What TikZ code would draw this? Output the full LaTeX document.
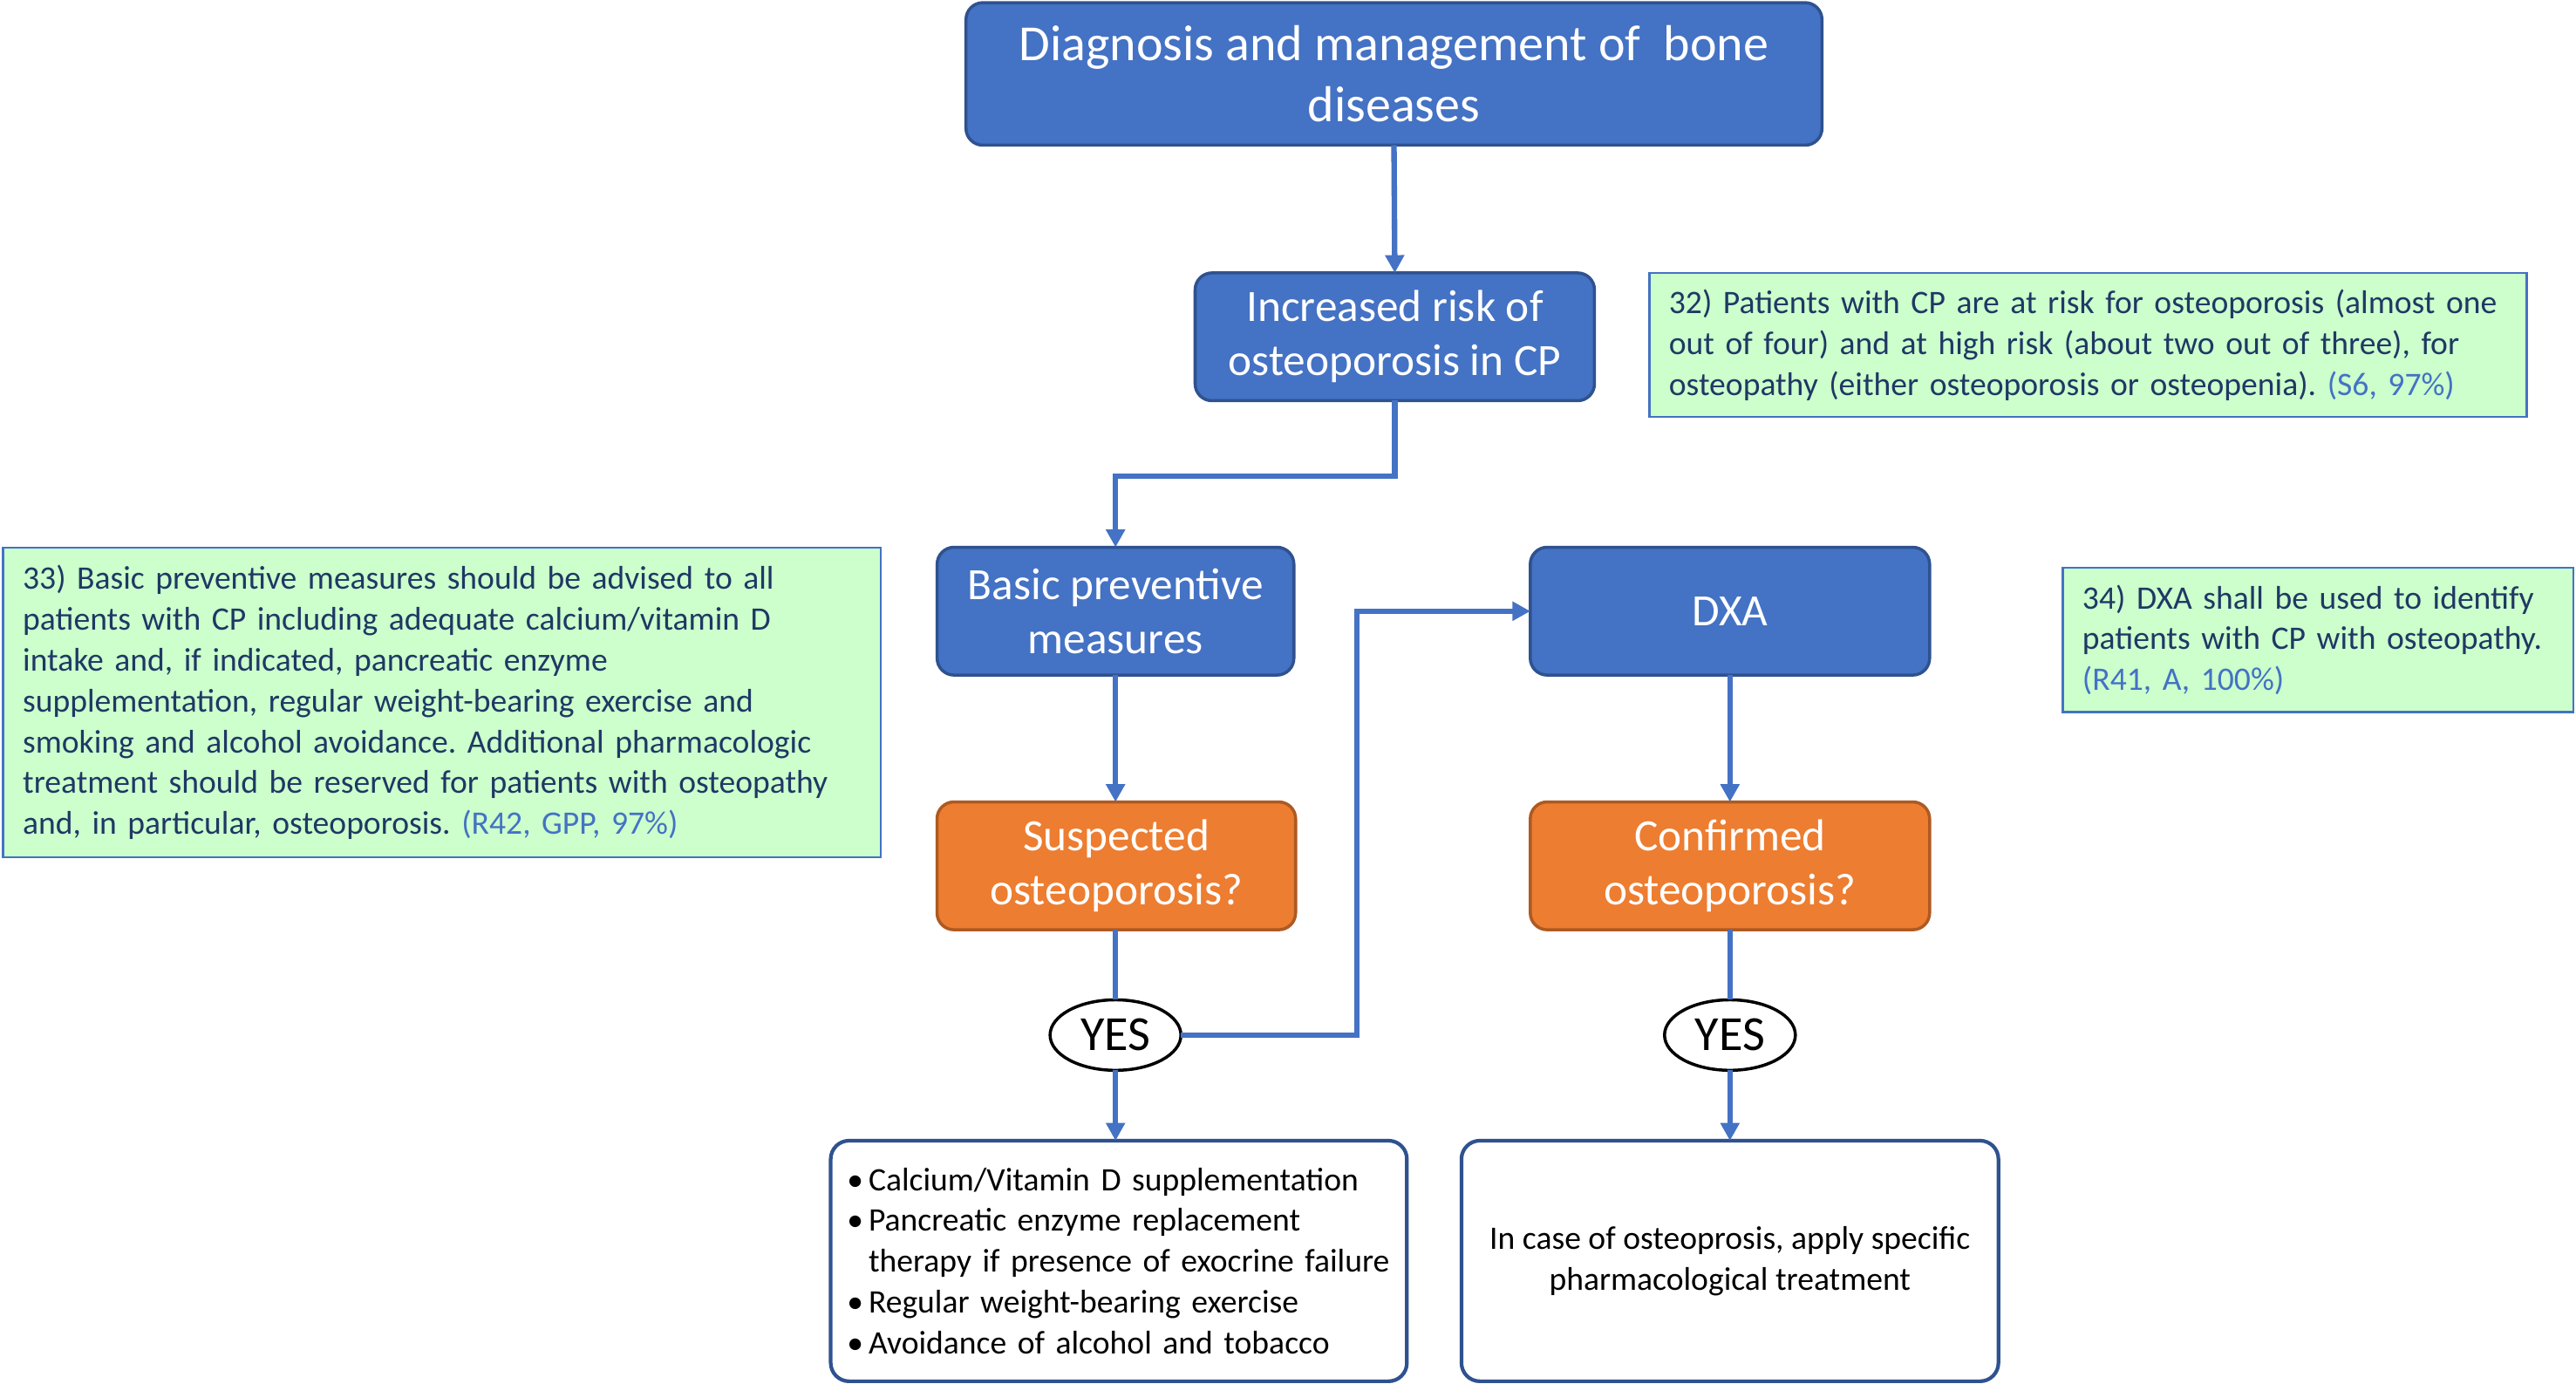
\documentclass[tikz,border=0pt]{standalone}
\usepackage{fontspec}
\setmainfont{Carlito}
\usetikzlibrary{arrows.meta,shapes.geometric}
\definecolor{bfill}{HTML}{4472C4}
\definecolor{bdraw}{HTML}{2F528F}
\definecolor{ofill}{HTML}{ED7D31}
\definecolor{odraw}{HTML}{AE5A21}
\definecolor{gfill}{HTML}{CCFFCC}
\definecolor{gdraw}{HTML}{4472C4}
\definecolor{gtext}{HTML}{1F3864}
\definecolor{reft}{HTML}{4472C4}
\definecolor{conn}{HTML}{4472C4}
\newcommand\oneline[1]{\mbox{#1}}
\newcommand\bul{\makebox[7pt][l]{•}}
\newcommand\refc[1]{{\color{reft}#1}}
\frenchspacing
\begin{document}
\begin{tikzpicture}[x=0.1884mm,y=-0.1884mm,
  box/.style={rectangle, rounded corners=5.5pt, inner sep=0pt, outer sep=0pt, align=center, line width=1pt},
  bluebox/.style={box, fill=bfill, draw=bdraw, text=white, font=\fontsize{14.6}{17.7}\selectfont},
  orangebox/.style={box, fill=ofill, draw=odraw, text=white, font=\fontsize{14.6}{17.7}\selectfont},
  notebox/.style={rectangle, fill=gfill, draw=gdraw, line width=0.7pt, inner xsep=6.4pt, inner ysep=0pt, outer sep=0pt, align=left, text=gtext, font=\fontsize{10.7}{13.35}\selectfont},
  whitebox/.style={box, rounded corners=6pt, fill=white, draw=bdraw, line width=1.2pt, text=black, font=\fontsize{10.7}{13.35}\selectfont},
  yesnode/.style={ellipse, draw=black, line width=1pt, fill=white, inner sep=0pt, outer sep=0pt, minimum width=42.7pt, minimum height=23pt, font=\fontsize{16}{19}\selectfont},
  connector/.style={draw=conn, line width=1.8pt, -{Triangle[width=6pt,length=5.8pt]}},
  plainline/.style={draw=conn, line width=1.8pt}]
\useasboundingbox[fill=white] (0,0) rectangle (1568,842);

\node[bluebox, minimum width=279.3pt, minimum height=46.5pt, font=\fontsize{16.5}{19.8}\selectfont] (title) at (848.5,45) {Diagnosis and management of\ \ bone\\diseases};
\node[bluebox, minimum width=130.3pt, minimum height=41.7pt] (risk) at (849,205) {\raisebox{-1pt}{Increased risk of}\\\raisebox{-1pt}{osteoporosis in CP}};
\node[bluebox, minimum width=116.4pt, minimum height=41.7pt] (basic) at (679,372) {\raisebox{-1pt}{Basic preventive}\\\raisebox{-1pt}{measures}};
\node[bluebox, minimum width=130.3pt, minimum height=41.7pt] (dxa) at (1053,372) {DXA};
\node[orangebox, minimum width=117pt, minimum height=41.7pt] (susp) at (679.5,527) {\raisebox{-1pt}{Suspected}\\\raisebox{-1pt}{osteoporosis?}};
\node[orangebox, minimum width=130.3pt, minimum height=41.7pt] (conf) at (1053,527) {\raisebox{-1pt}{Confirmed}\\\raisebox{-1pt}{osteoporosis?}};
\node[yesnode] (yes1) at (679,630) {YES};
\node[yesnode] (yes2) at (1053,630) {YES};

\node[whitebox, minimum width=188pt, minimum height=78.5pt, text width=177.3pt, align=left] (measures) at (681,767.5)
 {\oneline{\bul Calcium/Vitamin D supplementation}\\
  \oneline{\bul Pancreatic enzyme replacement}\\
  \oneline{\hspace*{7pt}therapy if presence of exocrine failure}\\
  \oneline{\bul Regular weight-bearing exercise}\\
  \oneline{\bul Avoidance of alcohol and tobacco}};
\node[whitebox, minimum width=175.2pt, minimum height=78.5pt] (treat) at (1053,767.5)
 {In case of osteoprosis, apply specific\\pharmacological treatment};

\node[notebox, minimum width=286.3pt, minimum height=47pt, text width=273.5pt] (n32) at (1271,210)
 {\oneline{32) Patients with CP are at risk for osteoporosis (almost one}\\
  \oneline{out of four) and at high risk (about two out of three), for}\\
  \oneline{osteopathy (either osteoporosis or osteopenia). \refc{(S6, 97\%)}}};
\node[notebox, minimum width=286.3pt, minimum height=101pt, text width=273.5pt] (n33) at (269,427.5)
 {\oneline{33) Basic preventive measures should be advised to all}\\
  \oneline{patients with CP including adequate calcium/vitamin D}\\
  \oneline{intake and, if indicated, pancreatic enzyme}\\
  \oneline{supplementation, regular weight-bearing exercise and}\\
  \oneline{smoking and alcohol avoidance. Additional pharmacologic}\\
  \oneline{treatment should be reserved for patients with osteopathy}\\
  \oneline{and, in particular, osteoporosis. \refc{(R42, GPP, 97\%)}}};
\node[notebox, minimum width=166.6pt, minimum height=47pt, text width=153.8pt] (n34) at (1411,389.5)
 {\oneline{34) DXA shall be used to identify}\\
  \oneline{patients with CP with osteopathy.}\\
  \oneline{\refc{(R41, A, 100\%)}}};

\coordinate (jog) at (826,372);
\draw[connector] (title.south) -- (risk.north);
\draw[connector] (risk.south) -- ++(0,46) -| (basic.north);
\draw[connector] (basic.south) -- (basic.south |- susp.north);
\draw[connector] (dxa.south) -- (conf.north);
\draw[plainline] (susp.south -| yes1.north) -- (yes1.north);
\draw[plainline] (conf.south) -- (yes2.north);
\draw[connector] (yes1.east) -| (jog) -- (dxa.west);
\draw[connector] (yes1.south) -- (yes1.south |- measures.north);
\draw[connector] (yes2.south) -- (treat.north);
\end{tikzpicture}
\end{document}
